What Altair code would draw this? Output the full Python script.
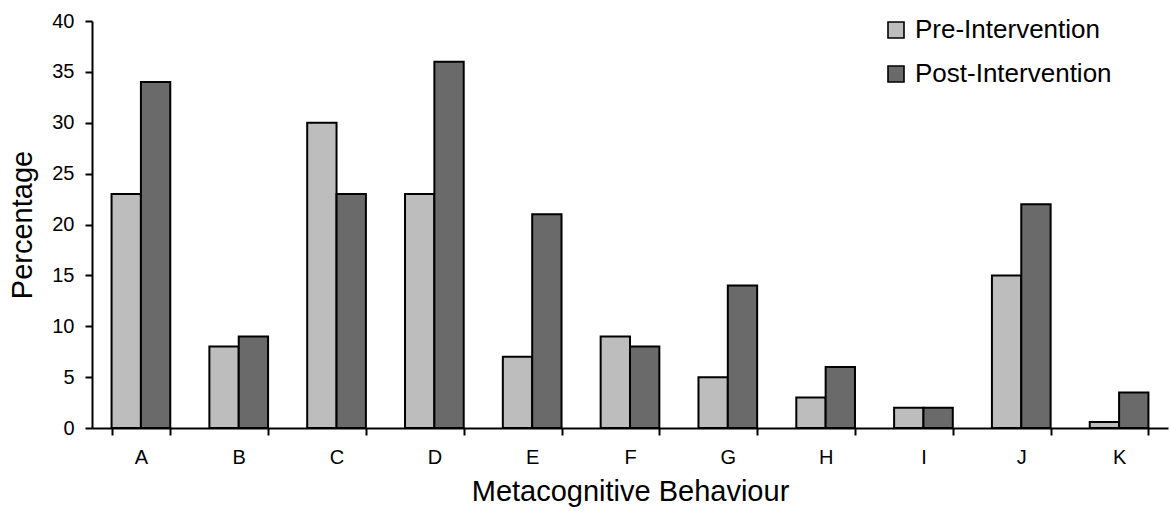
import altair as alt
import pandas as pd

categories = ["A", "B", "C", "D", "E", "F", "G", "H", "I", "J", "K"]
pre_values = [23, 8, 30, 23, 7, 9, 5, 3, 2, 15, 0.6]
post_values = [34, 9, 23, 36, 21, 8, 14, 6, 2, 22, 3.5]
series = ["Pre-Intervention", "Post-Intervention"]
colors = ["#bdbdbd", "#6a6a6a"]

rows = []
for c, a, b in zip(categories, pre_values, post_values):
    rows.append({"Behaviour": c, "Group": series[0], "Percentage": a})
    rows.append({"Behaviour": c, "Group": series[1], "Percentage": b})
df = pd.DataFrame(rows)

FONT = "Liberation Sans"

chart = (
    alt.Chart(df)
    .mark_bar(stroke="black", strokeWidth=2)
    .encode(
        x=alt.X(
            "Behaviour:N",
            sort=categories,
            scale=alt.Scale(paddingInner=0.4, paddingOuter=0.2),
            axis=alt.Axis(
                title="Metacognitive Behaviour",
                labelAngle=0,
                tickBand="extent",
                tickSize=7,
                tickWidth=2,
                domainWidth=2,
                labelPadding=12,
                titlePadding=10,
            ),
        ),
        xOffset=alt.XOffset("Group:N", sort=series, scale=alt.Scale(paddingInner=0, paddingOuter=0)),
        y=alt.Y(
            "Percentage:Q",
            scale=alt.Scale(domain=[0, 40], nice=False),
            axis=alt.Axis(
                title="Percentage",
                values=[0, 5, 10, 15, 20, 25, 30, 35, 40],
                tickSize=7,
                tickWidth=2,
                domainWidth=2,
                labelPadding=11,
                titlePadding=14,
                grid=False,
            ),
        ),
        color=alt.Color(
            "Group:N",
            sort=series,
            scale=alt.Scale(domain=series, range=colors),
            legend=alt.Legend(
                title=None,
                orient="none",
                legendX=791,
                legendY=-4,
                symbolType="square",
                symbolSize=256,
                symbolStrokeColor="black",
                symbolStrokeWidth=1.6,
                labelFontSize=26,
                labelOffset=6,
                labelLimit=0,
                rowPadding=18,
                padding=0,
            ),
        ),
    )
    .properties(
        width=1076,
        height=407,
        background="white",
        autosize=alt.AutoSizeParams(type="none"),
        padding={"left": 92, "top": 21, "right": 2, "bottom": 90},
    )
    .configure_view(stroke=None)
    .configure_axis(
        labelFont=FONT,
        titleFont=FONT,
        labelFontSize=20,
        titleFontSize=29,
        titleFontWeight="normal",
        labelColor="black",
        titleColor="black",
        domainColor="black",
        tickColor="black",
        grid=False,
    )
    .configure_legend(labelFont=FONT, labelColor="black")
)

chart.save("out.html", embed_options={"renderer": "svg", "actions": False})
